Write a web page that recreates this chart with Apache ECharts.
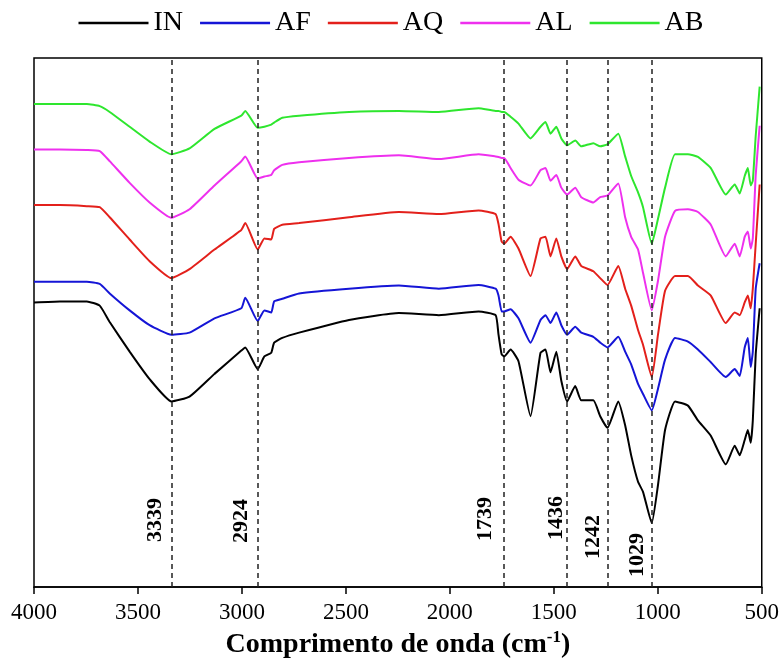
<!DOCTYPE html>
<html><head><meta charset="utf-8">
<script src="https://cdn.jsdelivr.net/npm/echarts@6/dist/echarts.min.js"></script>
<style>html,body{margin:0;padding:0;background:#fff}#c{width:782px;height:666px}</style>
</head><body><div id="c"></div>
<script>
// ---- data (wavenumber in cm-1, transmittance in arbitrary units, curves offset) ----
const wavenumbers = [4000,3875,3746,3684,3636,3540,3444,3339,3252,3132,3003,2984,2924,2892,2859,2845,2806,2725,2485,2245,2053,1862,1780,1766,1751,1739,1708,1670,1612,1564,1540,1516,1488,1464,1436,1397,1368,1310,1277,1242,1190,1157,1128,1095,1071,1029,999,965,917,855,807,745,673,630,606,582,567,553,543,529,510];
const IN = [53.8,54.0,54.0,53.2,50.1,44.5,39.3,35.1,36.0,40.3,44.7,45.3,41.2,43.6,44.3,46.2,47.1,48.1,50.5,51.8,51.4,52.1,51.4,47.7,44.0,43.6,44.9,42.7,32.3,44.3,44.9,40.6,44.5,39.0,35.1,38.0,35.3,35.3,32.3,30.1,35.1,30.6,24.9,19.9,18.0,12.1,19.3,29.7,35.1,34.3,31.5,28.6,23.2,26.7,24.9,27.8,29.7,27.3,31.5,44.0,52.7];
const AF = [57.7,57.7,57.7,57.3,55.5,52.3,49.5,47.7,48.1,50.8,52.7,54.7,50.3,52.3,51.9,54.0,54.5,55.5,56.4,57.0,56.4,57.1,56.4,55.1,52.1,52.1,52.5,50.8,46.2,50.5,51.4,49.9,51.9,49.5,47.7,49.2,48.1,47.3,46.2,45.3,47.3,44.5,42.1,38.4,36.5,33.4,37.5,43.0,47.1,46.4,44.9,42.5,39.7,41.2,39.9,45.3,47.1,41.6,44.5,56.4,61.2];
const AQ = [72.2,72.2,72.0,71.8,69.9,65.7,61.6,58.4,60.1,63.8,67.5,68.8,63.8,65.9,65.7,67.7,68.5,68.8,69.9,70.9,70.5,71.2,70.5,68.6,65.3,64.9,66.2,64.0,58.8,65.9,66.2,62.5,65.9,62.5,60.1,62.5,60.7,59.7,58.4,57.1,60.7,56.4,53.2,48.6,45.8,39.7,47.7,56.0,58.8,58.8,57.0,55.1,49.9,51.9,51.4,53.8,55.1,52.7,56.4,64.9,76.1];
const AL = [82.7,82.7,82.6,82.4,80.5,76.4,72.7,69.8,71.4,75.9,80.5,81.4,77.2,77.6,77.9,78.8,79.8,80.3,81.1,81.6,80.9,81.8,81.4,81.3,81.1,81.1,79.2,77.0,75.9,78.8,79.2,76.8,77.9,75.5,74.2,75.5,73.7,72.7,73.7,74.0,76.3,69.9,66.2,63.8,59.4,52.3,57.9,66.2,71.1,71.4,70.9,68.5,62.5,64.9,62.5,66.2,67.2,64.0,65.9,77.9,87.2];
const AB = [91.3,91.3,91.3,90.9,89.8,87.0,84.2,81.8,82.9,86.6,89.1,90.0,86.8,87.0,87.4,87.8,88.7,89.1,89.8,90.0,89.8,90.5,90.0,90.0,89.8,89.8,88.9,87.6,84.8,87.0,87.9,85.7,87.0,84.8,83.5,84.4,83.3,83.9,83.3,83.7,85.7,81.4,77.7,74.6,71.8,64.9,69.6,75.5,81.8,81.8,81.3,79.2,74.2,76.1,74.4,77.7,79.2,75.9,76.8,85.3,94.6];
const seriesNames = ['IN','AF','AQ','AL','AB'];
const bandPositions = [3339, 2924, 1739, 1436, 1242, 1029];
const xMin = 500, xMax = 4000, xStep = 500;

// ---- style ----
const colors = ['#000000','#1515d6','#e3201b','#ee30ee','#2ee62e'];
const serif = '"Liberation Serif","Times New Roman",serif';
const bandLabelStyle = [
  {dx:-16.5, up:67},{dx:-16, up:66},{dx:-18.5, up:68},{dx:-11, up:69},{dx:-14, up:50},{dx:-14, up:32}
];

const values = [IN, AF, AQ, AL, AB];
const lineSeries = seriesNames.map((name, k) => {
  const s = {
    name, type:'line', symbol:'none', smooth:0.15,
    data: wavenumbers.map((w,i)=>[w, values[k][i]]),
    lineStyle:{color:colors[k], width:2}, itemStyle:{color:colors[k]},
    z: 3
  };
  if (k === 0) {
    s.markLine = {
      silent:true, symbol:['none','none'], label:{show:false},
      lineStyle:{color:'#222', type:[5,4], width:1.5},
      data: bandPositions.map(v=>({xAxis:v}))
    };
  }
  return s;
});

const chart = echarts.init(document.getElementById('c'), null, {renderer:'canvas'});
chart.setOption({
  animation:false,
  backgroundColor:'#fff',
  legend:{
    data:seriesNames, top:4, left:'center', itemWidth:70, itemHeight:14, itemGap:17,
    icon:'path://M0,5.8 L70,5.8 L70,8.2 L0,8.2 Z',
    textStyle:{fontFamily:serif, fontSize:28, color:'#000'}
  },
  grid:{left:34, right:18, top:58, bottom:69, show:true, borderColor:'#000', borderWidth:1.5, backgroundColor:'transparent'},
  xAxis:{
    type:'value', min:xMin, max:xMax, interval:xStep, inverse:true,
    axisLine:{show:true, lineStyle:{color:'#000', width:1.5}},
    axisTick:{show:true, inside:false, length:7, lineStyle:{color:'#000', width:1.5}},
    axisLabel:{fontFamily:serif, fontSize:23, color:'#000', margin:14, formatter:v=>String(v)},
    splitLine:{show:false},
    name:'Comprimento de onda (cm{sup|-1})',
    nameLocation:'middle', nameGap:39,
    nameTextStyle:{fontFamily:serif, fontSize:28, fontWeight:'bold', color:'#000', lineHeight:32,
      rich:{sup:{fontFamily:serif, fontSize:17, fontWeight:'bold', color:'#000', verticalAlign:'top', lineHeight:18}}}
  },
  yAxis:{
    type:'value', min:0, max:100,
    axisLine:{show:false}, axisTick:{show:false}, axisLabel:{show:false}, splitLine:{show:false}
  },
  series: lineSeries.concat([{
    type:'custom', name:'bands', silent:true, z:4,
    data: bandPositions.map(v=>[v, 0]),
    renderItem:(params, api)=>{
      const wn = api.value(0);
      const base = api.coord([wn, 0]);
      const o = bandLabelStyle[params.dataIndex];
      return {type:'text', x:base[0]+o.dx, y:base[1]-o.up, rotation:Math.PI/2,
        style:{text:String(wn), font:'bold 22px '+serif, fill:'#000', align:'center', verticalAlign:'middle'}};
    }
  }])
});
</script></body></html>
